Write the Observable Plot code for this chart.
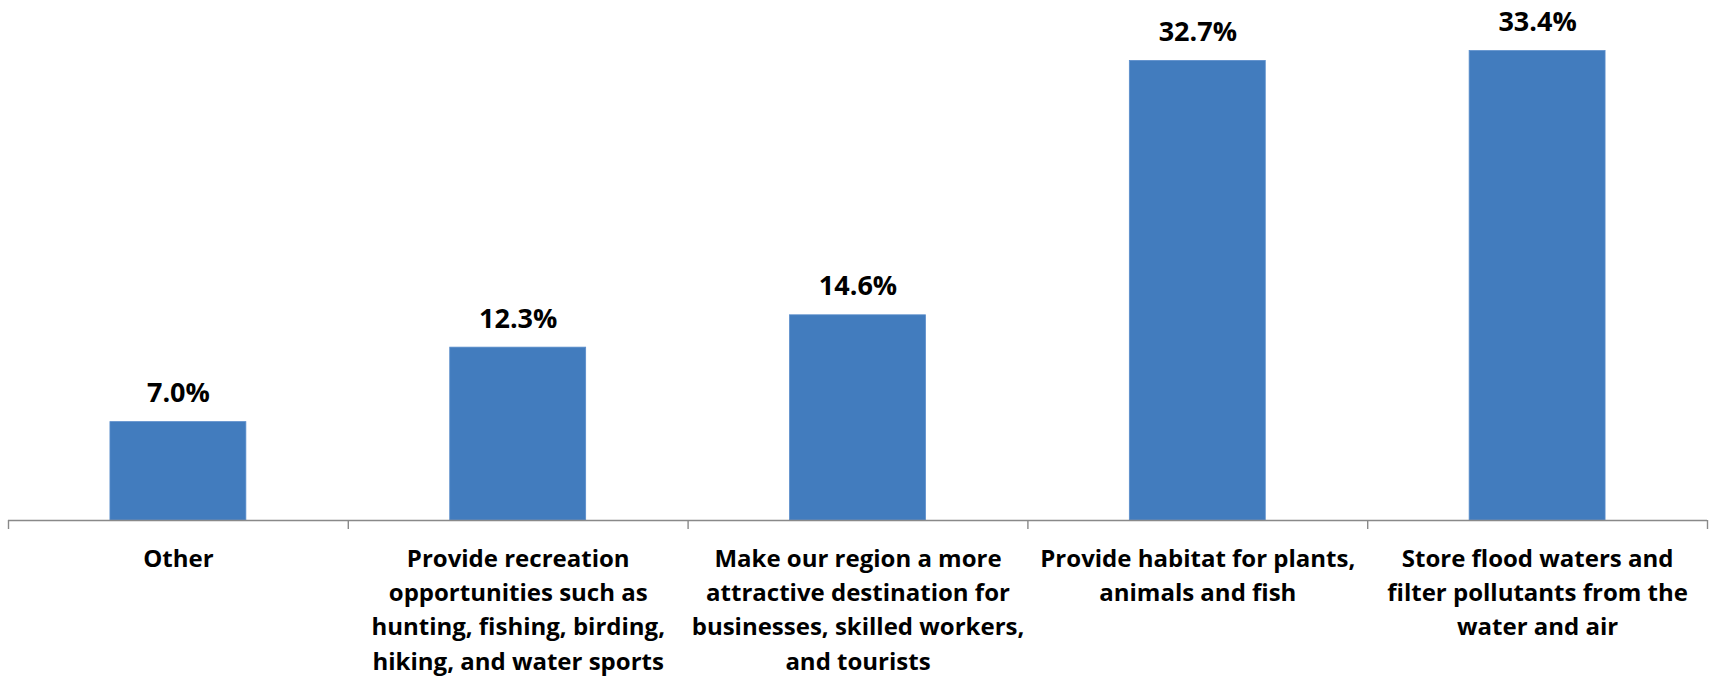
<!DOCTYPE html>
<html>
<head>
<meta charset="utf-8">
<script src="https://cdn.jsdelivr.net/npm/d3@7"></script>
<script src="https://cdn.jsdelivr.net/npm/@observablehq/plot@0.6"></script>
<style>
  html, body { margin: 0; padding: 0; background: #fff; }
  #chart svg { display: block; }
</style>
</head>
<body>
<div id="chart"></div>
<script>
const categories = [
  "Other",
  "Provide recreation\nopportunities such as\nhunting, fishing, birding,\nhiking, and water sports",
  "Make our region a more\nattractive destination for\nbusinesses, skilled workers,\nand tourists",
  "Provide habitat for plants,\nanimals and fish",
  "Store flood waters and\nfilter pollutants from the\nwater and air"
];
const values = [7.0, 12.3, 14.6, 32.7, 33.4];
const valueLabels = ["7.0%", "12.3%", "14.6%", "32.7%", "33.4%"];

const data = categories.map((c, i) => ({index: i, category: c, value: values[i], label: valueLabels[i]}));
const boundaries = d3.range(categories.length + 1);

const font = "'Open Sans', 'DejaVu Sans', sans-serif";

const chart = Plot.plot({
  width: 1710,
  height: 678,
  marginTop: 0,
  marginLeft: 8,
  marginRight: 3,
  marginBottom: 158,
  style: {fontFamily: font, background: "#fff"},
  x: {type: "linear", domain: [0, categories.length]},
  y: {type: "linear", domain: [0, 37.0], axis: null},
  marks: [
    Plot.rectY(data, {
      x1: d => d.index + 0.3,
      x2: d => d.index + 0.7,
      y1: 0,
      y2: "value",
      fill: "#427CBE",
      stroke: "#5A8DCB",
      strokeWidth: 0.8
    }),
    Plot.axisX({
      ticks: boundaries,
      tickSize: 9,
      tickFormat: () => "",
      stroke: "#898989",
      strokeWidth: 1.4,
      label: null
    }),
    Plot.ruleY([0], {stroke: "#898989", strokeWidth: 1.4}),
    Plot.text(data, {
      x: d => d.index + 0.5,
      y: "value",
      text: "label",
      lineAnchor: "bottom",
      dy: -20,
      fontSize: 27,
      fontWeight: "bold",
      fill: "#000"
    }),
    Plot.text(data, {
      x: d => d.index + 0.5,
      y: 0,
      text: "category",
      lineAnchor: "top",
      dy: 21.5,
      lineHeight: 1.4375,
      fontSize: 24,
      fontWeight: "bold",
      fill: "#000"
    })
  ]
});

document.getElementById("chart").appendChild(chart);
</script>
</body>
</html>
